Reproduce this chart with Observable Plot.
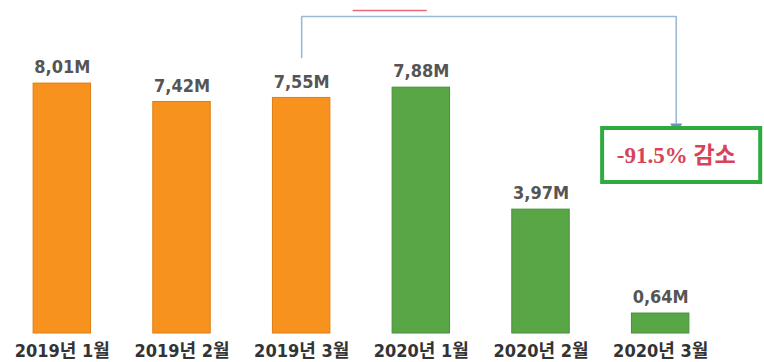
<!DOCTYPE html>
<html>
<head>
<meta charset="utf-8">
<script src="https://cdn.jsdelivr.net/npm/d3@7"></script>
<script src="https://cdn.jsdelivr.net/npm/@observablehq/plot@0.6"></script>
<style>
  html, body { margin: 0; padding: 0; background: #ffffff; }
  #chart { width: 764px; height: 362px; overflow: hidden; }
  svg { display: block; }
</style>
</head>
<body>
<div id="chart"></div>
<script>
// ---- data ----
const months = ["2019년 1월", "2019년 2월", "2019년 3월", "2020년 1월", "2020년 2월", "2020년 3월"];
const values = [8.01, 7.42, 7.55, 7.88, 3.97, 0.64];
const valueLabels = ["8,01M", "7,42M", "7,55M", "7,88M", "3,97M", "0,64M"];
const years = ["2019", "2019", "2019", "2020", "2020", "2020"];

// annotation (data coordinates: x = bar index, y = value in millions)
const bracketX = [2, 2, 5.13, 5.13];
const bracketY = [8.85, 10.16, 10.16, 6.75];
const arrowTip = [5.13, 6.62];
const boxX = [4.515, 5.836];
const boxY = [4.84, 6.57];
const noteText = "-91.5% 감소";
const notePos = [5.13, 5.70];
const redMarkX = [2.43, 3.05];
const redMarkY = 10.35;

const rows = months.map((m, i) => ({i, month: m, value: values[i], label: valueLabels[i], year: years[i]}));
const bracket = bracketX.map((x, k) => ({x, y: bracketY[k]}));

const orange = "#f7921e", green = "#58a646";

const chart = Plot.plot({
  width: 764,
  height: 362,
  marginLeft: 2,
  marginRight: 44,
  marginTop: 21,
  marginBottom: 29,
  x: {type: "linear", domain: [-0.5, 5.5], axis: null},
  y: {domain: [0, 10], axis: null},
  color: {domain: ["2019", "2020"], range: [orange, green]},
  marks: [
    Plot.rectY(rows, {x1: d => d.i - 0.24, x2: d => d.i + 0.24, y1: 0, y2: "value", fill: "year",
      stroke: d => d.year === "2019" ? "#dd7d16" : "#4a8f3b", strokeWidth: 1}),
    Plot.text(rows, {x: "i", y: "value", text: "label", dy: -16, lineAnchor: "middle",
      fontSize: 18, fontWeight: "bold", fill: "#555555",
      fontFamily: "'DejaVu Sans Condensed', 'Liberation Sans Narrow', 'Noto Sans', sans-serif"}),
    Plot.text(rows, {x: "i", y: 0, text: "month", dy: 18, lineAnchor: "middle",
      fontSize: 18, fontWeight: "bold", fill: "#333333",
      fontFamily: "'DejaVu Sans Condensed', 'Noto Sans CJK KR', sans-serif"}),
    Plot.line(bracket, {x: "x", y: "y", stroke: "#9bb9d4", strokeWidth: 1.6, curve: "linear"}),
    Plot.dot([arrowTip], {x: d => d[0], y: d => d[1], symbol: "triangle", rotate: 180, r: 4.5,
      fill: "#6f8fc6", stroke: "none"}),
    Plot.rect([0], {x1: () => boxX[0], x2: () => boxX[1], y1: () => boxY[0], y2: () => boxY[1],
      fill: "white", stroke: "#2eab3f", strokeWidth: 4}),
    Plot.text([noteText], {x: () => notePos[0], y: () => notePos[1], text: d => d, lineAnchor: "middle",
      fontSize: 23, fontWeight: "bold", fill: "#d84457",
      fontFamily: "'Liberation Serif', 'DejaVu Serif', 'Noto Sans CJK KR', serif"}),
    Plot.ruleY([redMarkY], {x1: redMarkX[0], x2: redMarkX[1], stroke: "#ec6a7c", strokeWidth: 1.5})
  ]
});
document.getElementById("chart").appendChild(chart);
</script>
</body>
</html>
